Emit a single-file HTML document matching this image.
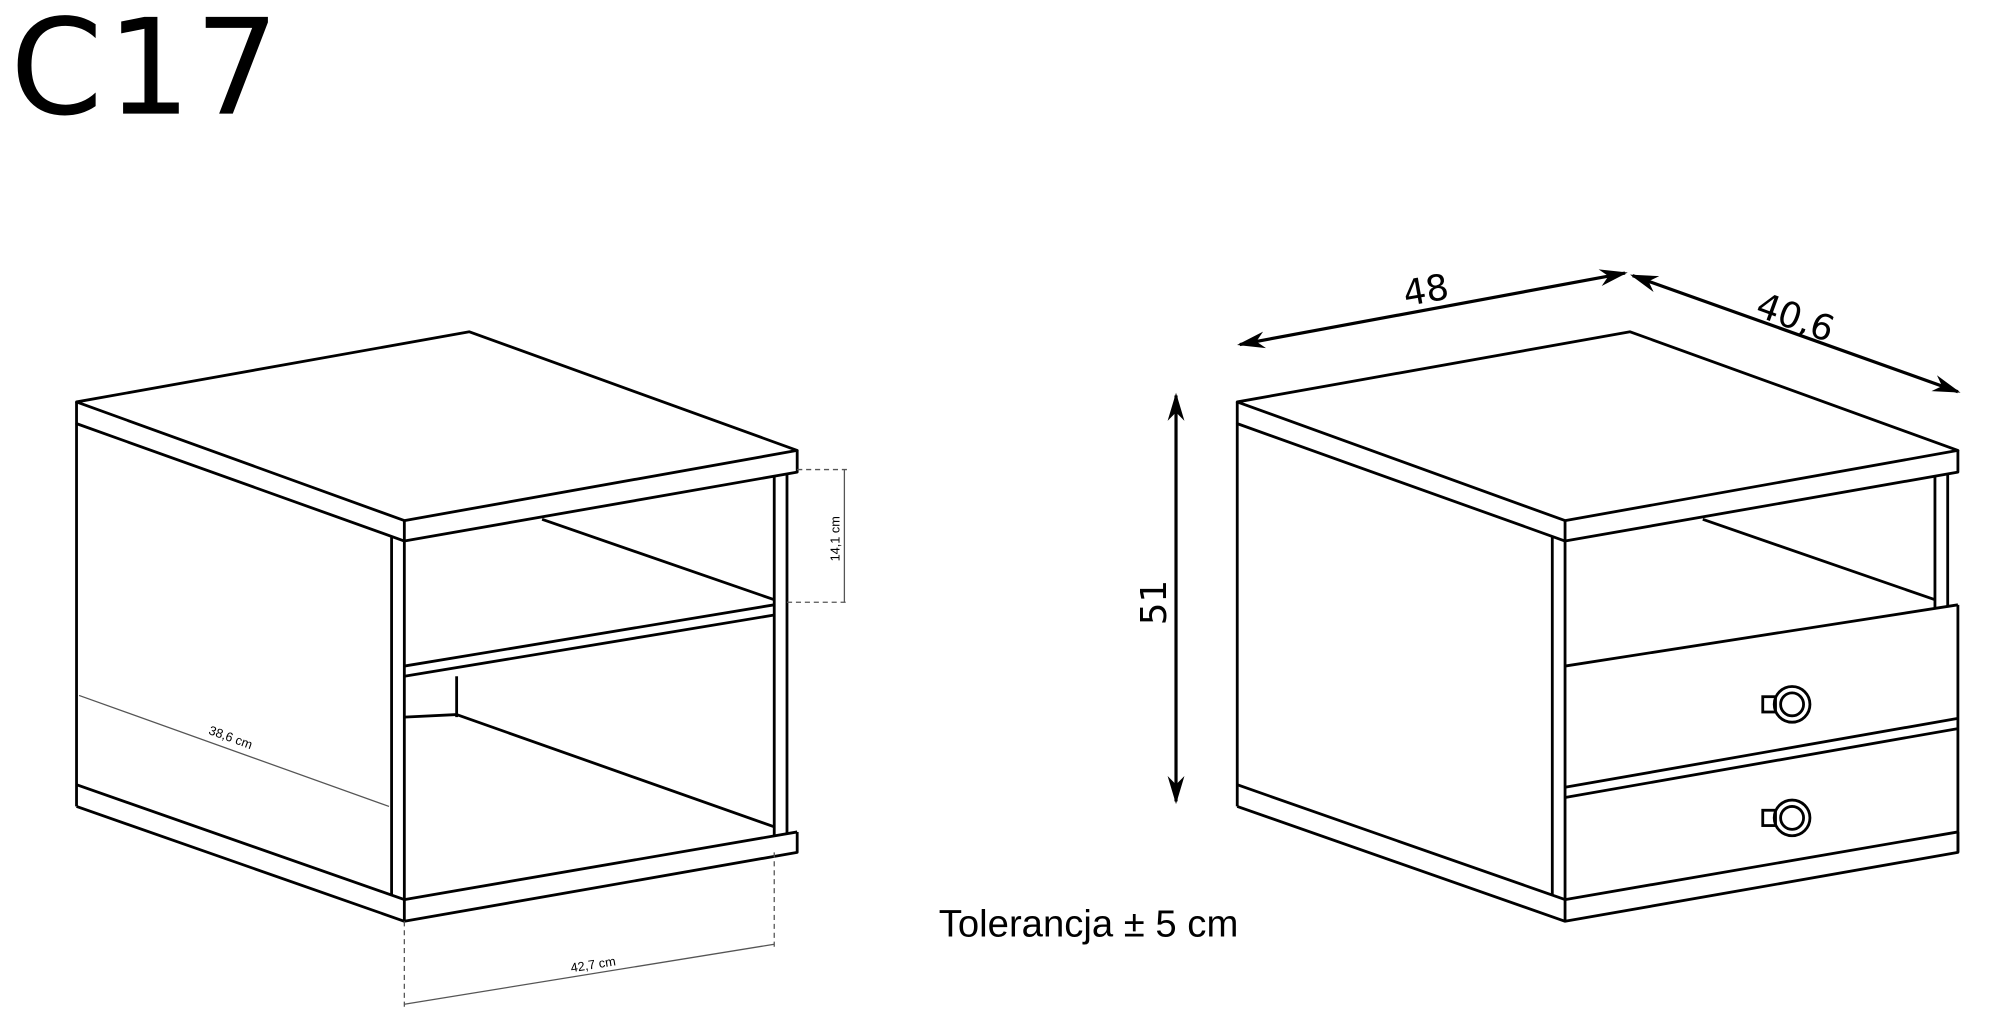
<!DOCTYPE html>
<html><head><meta charset="utf-8"><style>
html,body{margin:0;padding:0;background:#fff;}
svg{display:block;}
</style></head><body>
<svg width="2000" height="1031" viewBox="0 0 1568 808" preserveAspectRatio="none" xmlns="http://www.w3.org/2000/svg">
<defs>
<marker id="ah" viewBox="0 0 20 12" refX="18" refY="6" markerWidth="22" markerHeight="14" markerUnits="userSpaceOnUse" orient="auto-start-reverse">
<path d="M0,0 L20,6 L0,12 L6,6 Z" fill="#000"/>
</marker>
</defs>
<text x="8" y="89" font-family="DejaVu Sans, Liberation Sans, sans-serif" font-size="104" letter-spacing="3">C17</text>
<text x="736" y="734" font-family="Liberation Sans, sans-serif" font-size="30">Tolerancja ± 5 cm</text>

<g id="cab" fill="none" stroke="#000" stroke-width="2.2" stroke-linejoin="round">
<polygon points="60,315 368,260 625,353 317,408" fill="#fff"/>
<polyline points="60,315 60,332 317,424 625,370 625,353"/>
<line x1="317" y1="408" x2="317" y2="424"/>
<line x1="60" y1="332" x2="60" y2="632"/>
<polyline points="60,615 317,705 625,652"/>
<polyline points="60,632 317,722 625,668 625,652"/>
<line x1="317" y1="705" x2="317" y2="722"/>
<line x1="307" y1="420" x2="307" y2="702"/>
<line x1="317" y1="424" x2="317" y2="705"/>
</g>

<g fill="none" stroke="#000" stroke-width="2.2">
<line x1="607" y1="373" x2="607" y2="655"/>
<line x1="617" y1="371" x2="617" y2="653"/>
<line x1="317" y1="522" x2="607" y2="474"/>
<line x1="317" y1="530" x2="607" y2="482"/>
<line x1="425" y1="407" x2="607" y2="470"/>
<line x1="358" y1="560" x2="607" y2="648"/>
<line x1="358" y1="530" x2="358" y2="562"/>
<line x1="317" y1="562" x2="358" y2="560"/>
</g>
<g fill="none" stroke="#555" stroke-width="1">
<line x1="625" y1="368" x2="665" y2="368" stroke-dasharray="4,3"/>
<line x1="617" y1="472" x2="665" y2="472" stroke-dasharray="4,3"/>
<line x1="662" y1="368" x2="662" y2="472"/>
<line x1="62" y1="545" x2="305" y2="632"/>
<line x1="317" y1="722" x2="317" y2="792" stroke-dasharray="4,3"/>
<line x1="607" y1="668" x2="607" y2="742" stroke-dasharray="4,3"/>
<line x1="317" y1="787" x2="607" y2="740"/>
</g>
<text font-family="Liberation Sans, sans-serif" font-size="10" transform="translate(658,440) rotate(-90)">14,1 cm</text>
<text font-family="Liberation Sans, sans-serif" font-size="10" transform="translate(163,575) rotate(20)">38,6 cm</text>
<text font-family="Liberation Sans, sans-serif" font-size="10" transform="translate(448,762) rotate(-9)">42,7 cm</text>

<use href="#cab" transform="translate(910,0)"/>
<g fill="none" stroke="#000" stroke-width="2.2">
<line x1="1517" y1="373" x2="1517" y2="476"/>
<line x1="1527" y1="371" x2="1527" y2="475"/>
<line x1="1335" y1="407" x2="1517" y2="470"/>
<line x1="1227" y1="522" x2="1535" y2="474"/>
<line x1="1535" y1="474" x2="1535" y2="668"/>
<line x1="1227" y1="617" x2="1535" y2="563"/>
<line x1="1227" y1="625" x2="1535" y2="571"/>
<circle cx="1405" cy="552" r="14"/><circle cx="1405" cy="552" r="9"/>
<rect x="1382" y="546" width="10" height="12"/>
<circle cx="1405" cy="641" r="14"/><circle cx="1405" cy="641" r="9"/>
<rect x="1382" y="635" width="10" height="12"/>
<line x1="972" y1="270" x2="1274" y2="214" stroke-width="2.5" marker-start="url(#ah)" marker-end="url(#ah)"/>
<line x1="1280" y1="216" x2="1535" y2="307" stroke-width="2.5" marker-start="url(#ah)" marker-end="url(#ah)"/>
<line x1="922" y1="310" x2="922" y2="628" stroke-width="2.5" marker-start="url(#ah)" marker-end="url(#ah)"/>
</g>
<text font-family="DejaVu Sans, Liberation Sans, sans-serif" font-size="28" transform="translate(1102,240) rotate(-10)">48</text>
<text font-family="DejaVu Sans, Liberation Sans, sans-serif" font-size="28" transform="translate(1375,247) rotate(20)">40,6</text>
<text font-family="DejaVu Sans, Liberation Sans, sans-serif" font-size="28" transform="translate(914,490) rotate(-90)">51</text>
</svg>
</body></html>
